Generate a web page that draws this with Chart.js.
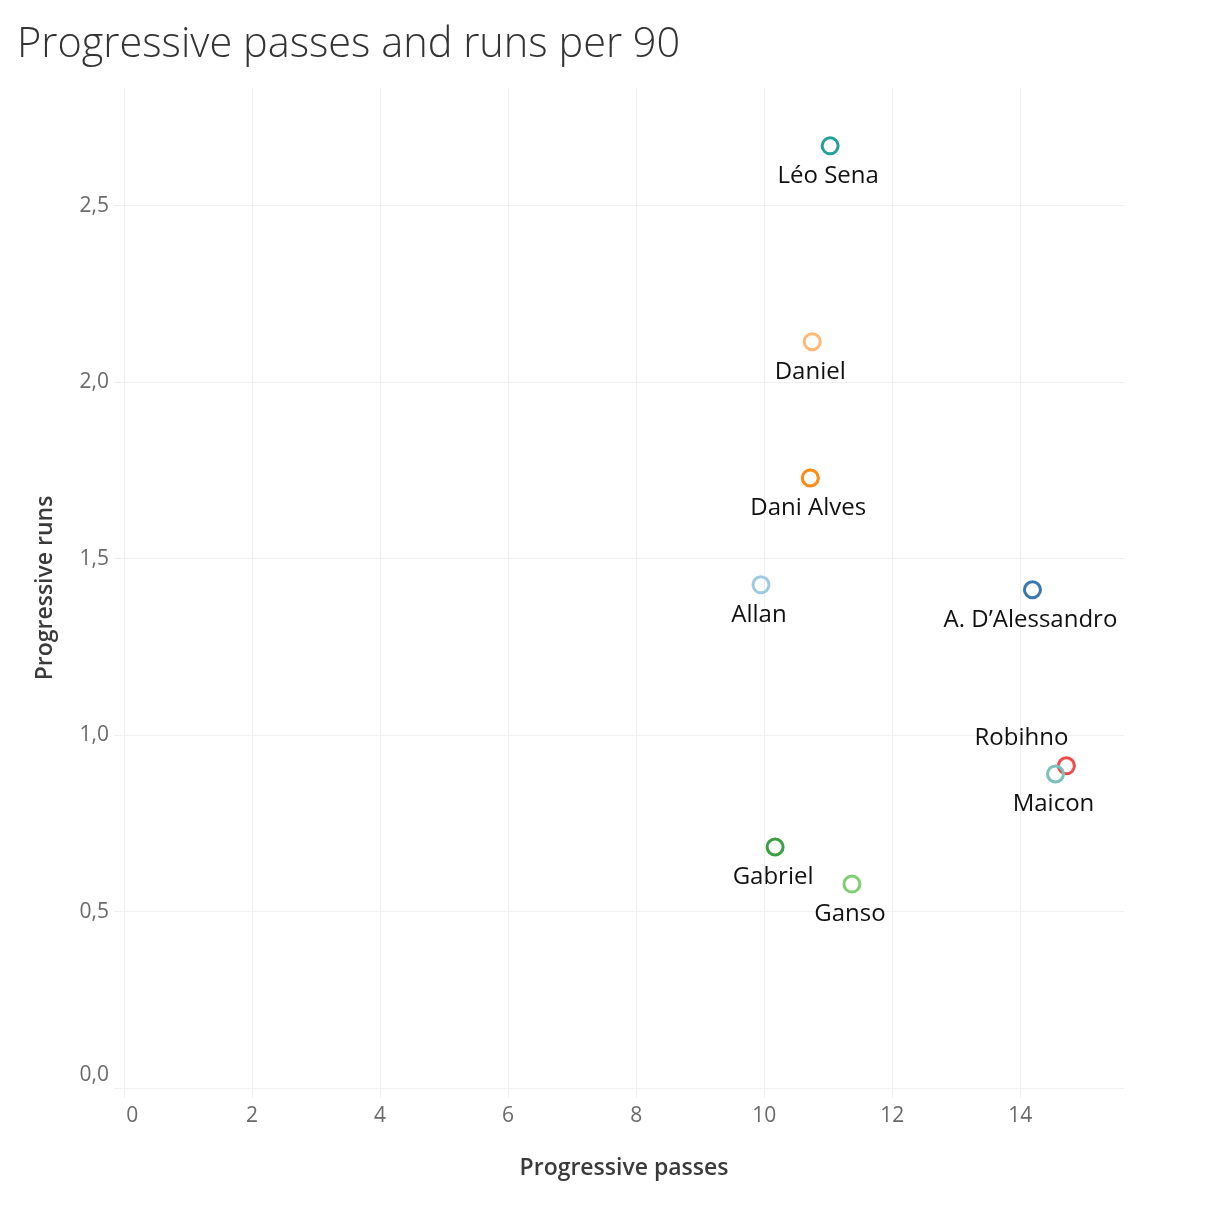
<!DOCTYPE html>
<html>
<head>
<meta charset="utf-8">
<script src="https://cdn.jsdelivr.net/npm/chart.js@4.4.0/dist/chart.umd.min.js"></script>
<style>
  body { margin: 0; background: #fff; }
  canvas { display: block; }
</style>
</head>
<body>
<canvas id="ChartOne" width="1232" height="1212"></canvas>
<script>

// data
let players = ['Léo Sena', 'Daniel', 'Dani Alves', 'Allan', 'A. D\u2019Alessandro', 'Robihno', 'Maicon', 'Gabriel', 'Ganso'];
let progPasses = [11.03, 10.75, 10.72, 9.95, 14.19, 14.72, 14.55, 10.17, 11.37];
let progRuns = [2.67, 2.115, 1.729, 1.426, 1.412, 0.913, 0.890, 0.683, 0.578];
let colorHex = ['#24a09a', '#ffb877', '#ff8a10', '#9ecae1', '#3a78b0', '#ef4b4b', '#7bbfbf', '#3aa043', '#80d070'];

const xTicks = [0, 2, 4, 6, 8, 10, 12, 14];
const yTicks = [0, 0.5, 1, 1.5, 2, 2.5];

// where the name sits relative to the mark (Tableau moved Robihno up and left)
const labelShift = { 'Robihno': [-45, -28] };

const fontName = '"Open Sans", "Noto Sans", sans-serif';

const nameLabels = {
  id: 'nameLabels',
  afterDatasetsDraw: (chart) => {
    let ctx = chart.ctx;
    let meta = chart.getDatasetMeta(0);
    ctx.save();
    ctx.font = '24px ' + fontName;
    ctx.fillStyle = '#111';
    ctx.textAlign = 'center';
    ctx.textBaseline = 'middle';
    meta.data.forEach((pt, i) => {
      let shift = labelShift[players[i]] || [-2, 30];
      ctx.fillText(players[i], pt.x + shift[0], pt.y + shift[1]);
    });
    ctx.restore();
  }
};

const points = progPasses.map((v, i) => {
  return { x: v, y: progRuns[i] };
});

const gridColor = '#efefef';

let ctx = document.getElementById('ChartOne').getContext('2d');

let myChart = new Chart(ctx, {
  type: 'scatter',
  data: {
    datasets: [{
      data: points,
      pointRadius: 8,
      pointHoverRadius: 8,
      pointBorderWidth: 3,
      pointBorderColor: colorHex,
      pointBackgroundColor: 'rgba(0,0,0,0)'
    }]
  },
  plugins: [nameLabels],
  options: {
    responsive: false,
    animation: false,
    devicePixelRatio: 1,
    layout: {
      padding: { left: 17, right: 108, top: 0, bottom: 0 }
    },
    plugins: {
      legend: { display: false },
      tooltip: { enabled: false },
      title: {
        display: true,
        text: 'Progressive passes and runs per 90',
        align: 'start',
        color: '#333',
        font: { family: fontName, size: 41.5, weight: '300', lineHeight: 1.2 },
        padding: { top: 20, bottom: 18.2 }
      }
    },
    scales: {
      x: {
        type: 'linear',
        min: 0,
        max: 15.62,
        afterFit: (scale) => { scale.height = 124; },
        afterBuildTicks: (scale) => { scale.ticks = xTicks.map((v) => ({ value: v })); },
        border: { display: false },
        grid: { color: gridColor, tickColor: gridColor, tickLength: 10, lineWidth: 1 },
        ticks: {
          color: '#6a6a6a',
          font: { family: fontName, size: 21 },
          padding: 5,
          maxRotation: 0,
          // the edge label sits a little inside, as in the original
          callback: (v) => v === 0 ? '   0' : String(v)
        },
        title: {
          display: true,
          text: 'Progressive passes',
          color: '#3a3a3a',
          font: { family: fontName, size: 23, weight: '600' },
          padding: { top: 0, bottom: 30 }
        }
      },
      y: {
        type: 'linear',
        min: 0,
        max: 2.834,
        afterFit: (scale) => { scale.width = 107; },
        afterBuildTicks: (scale) => { scale.ticks = yTicks.map((v) => ({ value: v })); },
        border: { display: false },
        grid: { color: gridColor, tickColor: gridColor, tickLength: 10, lineWidth: 1 },
        ticks: {
          color: '#6a6a6a',
          font: { family: fontName, size: 21 },
          padding: 5,
          callback: (v) => {
            let txt = v.toFixed(1).replace('.', ',');
            return v === 0 ? [txt, ''] : txt;
          }
        },
        title: {
          display: true,
          text: 'Progressive runs',
          color: '#3a3a3a',
          font: { family: fontName, size: 23, weight: '600' },
          padding: { top: 15, bottom: 0 }
        }
      }
    }
  }
});

</script>
</body>
</html>
